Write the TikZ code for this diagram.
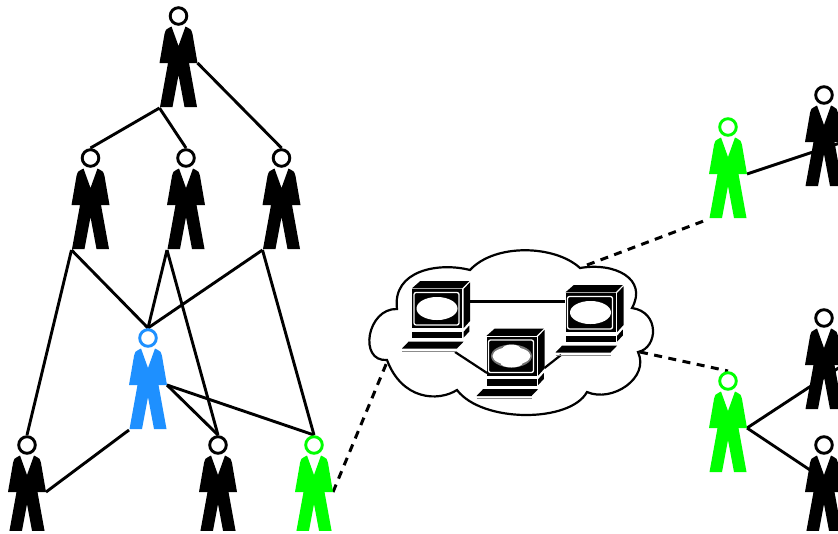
\documentclass[tikz,border=0pt]{standalone}
\usetikzlibrary{backgrounds,calc}
\definecolor{dodger}{HTML}{1E90FF}
\definecolor{lime}{HTML}{00FF00}
\tikzset{
  x=1pt,y=-1pt,
  link/.style={draw=black,line width=2.9pt},
  pclink/.style={draw=black,line width=2.2pt},
  dashlink/.style={draw=black,line width=3pt,dash pattern=on 8pt off 6.5pt},
  person/.style={draw=none,inner sep=0pt,outer sep=0pt,minimum width=38pt,minimum height=102pt},
  computer/.style={draw=none,inner sep=0pt,outer sep=0pt,minimum width=68pt,minimum height=71pt},
  cloudline/.style={draw=black,line width=2.2pt}
}
\newcommand{\personshape}[2]{%
  \begin{scope}[shift={(#1.center)}]
  \fill[#2] (-9,-29.5) .. controls (-12,-29) and (-13.5,-27) .. (-14.5,-20)
    -- (-19,6) -- (-10.5,6) -- (-18.5,50) -- (-6,50) -- (0,18) -- (6,50) -- (18.5,50) -- (10.5,6) -- (19,6)
    -- (14.5,-20) .. controls (13.5,-27) and (12,-29) .. (9,-29.5) -- (7,-30.5) -- (0,-11) -- (-7,-30.5) -- cycle;
  \draw[#2,fill=white,line width=2.9pt] (0,-41) circle[radius=8.3];
  \end{scope}}
\newcommand{\pcshape}[2]{%
  \begin{scope}[shift={(#1.center)},xshift=-34pt,yshift=35.5pt]
  \fill[black] (10,7.3) -- (18.3,0) -- (67.3,0) -- (60,7.3) -- cycle;
  \fill[black] (10,8.3) rectangle (60,47);
  \fill[black] (61.7,8) -- (68,1.3) -- (68,40) -- (61.7,47) -- cycle;
  \draw[white,line width=1.3pt,rounded corners=2pt] (12,11.5) rectangle (57,44);
  \fill[#2] (35,27.5) ellipse[x radius=20.5,y radius=11.5];
  \fill[white] (35,27.5) ellipse[x radius=19,y radius=9];
  \fill[white] (35,20.5) ellipse[x radius=9,y radius=4.5];
  \fill[white] (35,34.5) ellipse[x radius=11,y radius=4.5];
  \fill[black] (10,50.5) rectangle (60,57.3);
  \fill[black] (61.7,50.7) -- (67.3,44.5) -- (67.3,50.5) -- (61.7,56.5) -- cycle;
  \fill[black] (6.7,60.5) -- (61.7,60.5) -- (55,67.5) -- (0,67.5) -- cycle;
  \draw[black!45,line width=.7pt] (0,70) -- (55,70);
  \end{scope}}
\begin{document}
\begin{tikzpicture}
\useasboundingbox (0,0) rectangle (838,533);
\clip (0,0) rectangle (838,530);
% cloud
\draw[cloudline] (470,270) .. controls (495,243) and (555,245) .. (580,268)
  .. controls (615,262) and (648,279) .. (632,308)
  .. controls (660,312) and (658,348) .. (638,352)
  .. controls (650,378) and (612,403) .. (587,392)
  .. controls (570,423) and (482,423) .. (457,390)
  .. controls (438,402) and (402,400) .. (387,360)
  .. controls (358,362) and (367,308) .. (397,309)
  .. controls (392,270) and (439,262) .. (470,270) -- cycle;
\coordinate (cloudSW) at (387,362);
\coordinate (cloudNE) at (587,265);
\coordinate (cloudE) at (640,352);
% computers
\node[computer] (pcA) at (436,316.5) {};
\node[computer] (pcB) at (510.5,364) {};
\node[computer] (pcC) at (589.5,320.5) {};
% people
\node[person] (top) at (178.5,57) {};
\node[person] (ma) at (90.5,199) {};
\node[person] (mb) at (186,199) {};
\node[person] (mc) at (281.5,199) {};
\node[person] (blue) at (148,379) {};
\node[person] (ba) at (27,486) {};
\node[person] (bb) at (218,486) {};
\node[person] (bc) at (314,486) {};
\node[person] (ga) at (728,168) {};
\node[person] (gb) at (728,422) {};
\node[person] (ra) at (824,136) {};
\node[person] (rb) at (824,359) {};
\node[person] (rc) at (824,486) {};
% connectors
\path[link] ([yshift=-6pt]top.east) -- (mc.north);
\path[link] (top.south west) -- (ma.north);
\path[link] (top.south west) -- (mb.north);
\path[link] (ma.south west) -- (blue.north);
\path[link] (ma.south west) -- (ba.north);
\path[link] (mb.south west) -- (blue.north);
\path[link] (mb.south west) -- (bb.north);
\path[link] (mc.south west) -- (blue.north);
\path[link] (mc.south west) -- (bc.north);
\path[link] ([yshift=-6pt]blue.east) -- (bb.north);
\path[link] ([yshift=-6pt]blue.east) -- (bc.north);
\path[link] (blue.south west) -- ([yshift=-6pt]ba.east);
\path[link] ([yshift=-6pt]ga.east) -- ([yshift=-6pt]ra.east);
\path[link] ([yshift=-6pt]gb.east) -- ([yshift=-6pt]rb.east);
\path[link] ([yshift=-6pt]gb.east) -- ([yshift=-6pt]rc.east);
\path[dashlink] ([yshift=-6pt]bc.east) -- (cloudSW);
\path[dashlink] (cloudNE) -- (ga.south west);
\path[dashlink] (cloudE) -- (gb.north);
\path[pclink] ([yshift=15pt]pcA.east) -- ([xshift=9pt,yshift=19pt]pcC.west);
\path[pclink] ([xshift=19pt]pcA.south) -- ([xshift=10.5pt,yshift=-9pt]pcB.west);
\path[pclink] ([yshift=-4pt]pcB.east) -- ([xshift=5.5pt,yshift=-34.5pt]pcC.west);
% shapes
\pcshape{pcA}{white}\pcshape{pcB}{black!55}\pcshape{pcC}{white}
\foreach \n/\c in {top/black,ma/black,mb/black,mc/black,blue/dodger,ba/black,bb/black,bc/lime,ga/lime,gb/lime,ra/black,rb/black,rc/black}{\personshape{\n}{\c}}
\end{tikzpicture}
\end{document}
